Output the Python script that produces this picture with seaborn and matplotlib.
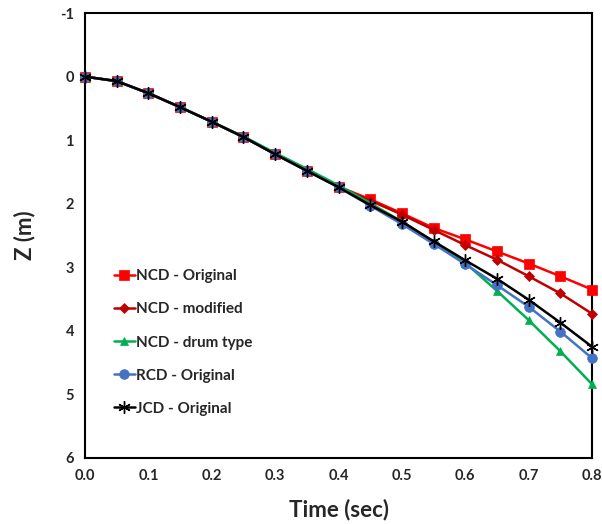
import numpy as np
import pandas as pd
import matplotlib
matplotlib.use("Agg")
import matplotlib.pyplot as plt
import seaborn as sns

# Time steps (s)
time = [0.0, 0.05, 0.1, 0.15, 0.2, 0.25, 0.3, 0.35, 0.4, 0.45, 0.5, 0.55, 0.6, 0.65, 0.7, 0.75, 0.8]

# Vertical displacement Z (m) for each configuration
ncd_original = [0.0, 0.07, 0.26, 0.48, 0.71, 0.95, 1.22, 1.48, 1.73, 1.93, 2.15, 2.38, 2.56, 2.75, 2.94, 3.14, 3.35]
ncd_modified = [0.0, 0.07, 0.26, 0.48, 0.71, 0.95, 1.22, 1.48, 1.73, 1.95, 2.17, 2.41, 2.65, 2.88, 3.14, 3.41, 3.73]
ncd_drum = [0.0, 0.07, 0.26, 0.48, 0.71, 0.94, 1.20, 1.45, 1.71, 1.99, 2.28, 2.60, 2.93, 3.37, 3.83, 4.32, 4.84]
rcd_original = [0.0, 0.07, 0.26, 0.48, 0.71, 0.95, 1.22, 1.48, 1.74, 2.03, 2.32, 2.63, 2.95, 3.28, 3.62, 4.01, 4.43]
jcd_original = [0.0, 0.07, 0.26, 0.48, 0.71, 0.95, 1.22, 1.48, 1.74, 2.02, 2.28, 2.59, 2.89, 3.18, 3.51, 3.87, 4.25]

series_names = ["NCD - Original", "NCD - modified", "NCD - drum type", "RCD - Original", "JCD - Original"]
series_values = [ncd_original, ncd_modified, ncd_drum, rcd_original, jcd_original]

colors = ["#FF0000", "#C00000", "#00B050", "#4472C4", "#000000"]
markers = ["s", "D", "^", "o", (6, 2, 0)]
msizes = [7, 5, 6, 7, 9]

sns.set_theme(style="white")
plt.rcParams["font.family"] = ["Lato", "DejaVu Sans"]

fig = plt.figure(figsize=(6.02, 5.24), dpi=100)
ax = fig.add_axes([0.1412, 0.126, 0.8422, 0.849])

for name, vals, c, m, ms in zip(series_names, series_values, colors, markers, msizes):
    df = pd.DataFrame({"Time": time, "Z": vals})
    sns.lineplot(data=df, x="Time", y="Z", ax=ax, color=c, marker=m,
                 markersize=ms, linewidth=1.8, label=name,
                 markeredgecolor=c,
                 markeredgewidth=1.0 if m == (6, 2, 0) else 0.5,
                 clip_on=False, zorder=3)

ax.set_xlim(0, 0.8)
ax.set_ylim(6, -1)
ax.set_xticks(np.arange(0, 0.81, 0.1))
ax.set_xticklabels([f"{v:.1f}" for v in np.arange(0, 0.81, 0.1)])
ax.set_yticks(range(-1, 7))
ax.set_yticklabels([str(v) for v in range(-1, 7)])
ax.tick_params(axis="both", length=0, labelsize=10.5, pad=8)
for lab in ax.get_xticklabels() + ax.get_yticklabels():
    lab.set_fontweight("bold")

ax.set_xlabel("Time (sec)", fontsize=16, fontweight="bold", labelpad=11)
ax.set_ylabel("Z (m)", fontsize=16, fontweight="bold", labelpad=18)

for s in ax.spines.values():
    s.set_visible(True)
    s.set_color("black")
    s.set_linewidth(1.5)

leg = ax.legend(loc="upper left", bbox_to_anchor=(0.03, 0.455), frameon=False,
                handlelength=1.35, handletextpad=0.1, labelspacing=1.25,
                prop={"weight": "bold", "size": 11})

fig.savefig("out.png", dpi=100)
